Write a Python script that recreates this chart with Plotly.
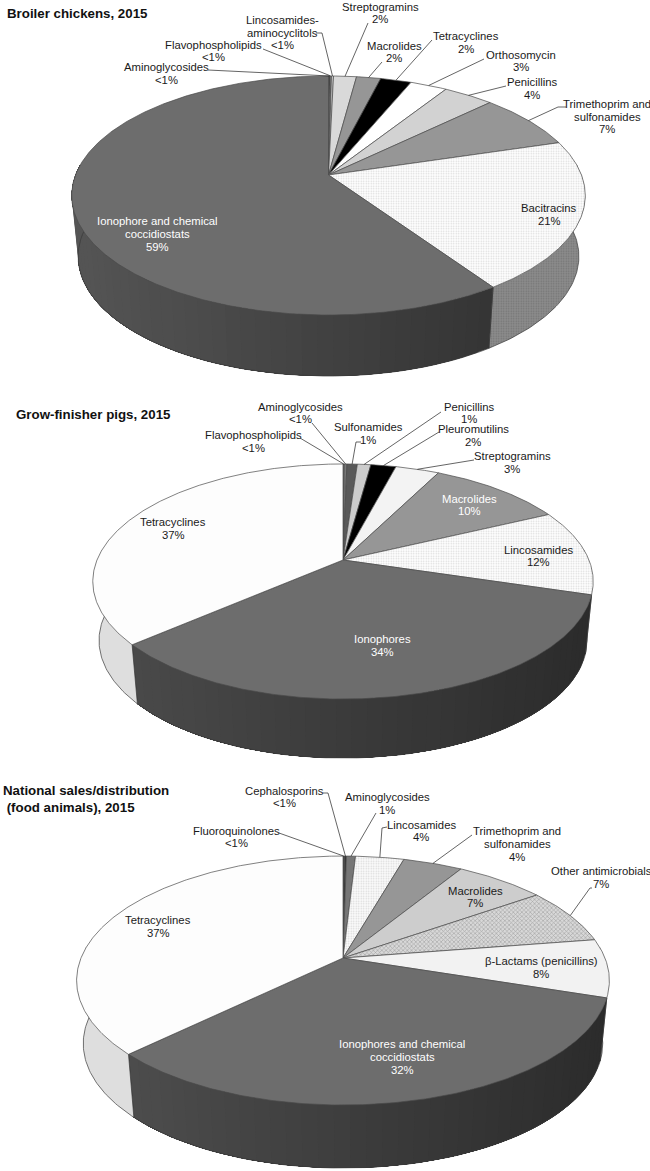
import numpy as np
import plotly.graph_objects as go

# --- data (clockwise from 12 o'clock) ---
broiler_classes = ["Aminoglycosides", "Flavophospholipids", "Lincosamides-<br>aminocyclitols", "Streptogramins",
                   "Macrolides", "Tetracyclines", "Orthosomycin", "Penicillins",
                   "Trimethoprim and<br>sulfonamides", "Bacitracins", "Ionophore and chemical<br>coccidiostats"]
broiler_values = [0.12, 0.10, 0.15, 1.7, 1.8, 2.3, 2.75, 3.75, 7.6, 20.3, 59.4]
broiler_pct = ["<1%", "<1%", "<1%", "2%", "2%", "2%", "3%", "4%", "7%", "21%", "59%"]

pig_classes = ["Flavophospholipids", "Aminoglycosides", "Sulfonamides", "Penicillins", "Pleuromutilins",
               "Streptogramins", "Macrolides", "Lincosamides", "Ionophores", "Tetracyclines"]
pig_values = [0.1, 0.2, 0.8, 1.04, 1.94, 3.37, 10.45, 11.8, 33.9, 36.4]
pig_pct = ["<1%", "<1%", "1%", "1%", "2%", "3%", "10%", "12%", "34%", "37%"]

national_classes = ["Fluoroquinolones", "Cephalosporins", "Aminoglycosides", "Lincosamides",
                    "Trimethoprim and<br>sulfonamides", "Macrolides", "Other antimicrobials",
                    "β-Lactams (penicillins)", "Ionophores and chemical<br>coccidiostats", "Tetracyclines"]
national_values = [0.1, 0.15, 0.65, 3.5, 4.3, 6.5, 7.3, 7.55, 32.6, 37.3]
national_pct = ["<1%", "<1%", "1%", "4%", "4%", "7%", "7%", "8%", "32%", "37%"]

# --- slice styles: fill, pattern shape, text colour ---
WHITE, DARK, MID, LIGHT, INK = "#ffffff", "#6d6d6d", "#969696", "#d9d9d9", "#1a1a1a"
broiler_fill = ["#444444", "#8a8a8a", "#cfcfcf", LIGHT, MID, "#000000", WHITE, "#d2d2d2", MID, WHITE, DARK]
broiler_shape = [None] * 9 + [".", None]
broiler_text = [INK] * 10 + ["#ffffff"]
pig_fill = ["#777777", "#777777", "#595959", "#cccccc", "#000000", "#f3f3f3", MID, WHITE, DARK, "#fdfdfd"]
pig_shape = [None] * 7 + [".", None, None]
pig_text = [INK] * 6 + ["#ffffff", INK, "#ffffff", INK]
national_fill = ["#444444", "#333333", "#767676", "#fbfbfb", MID, "#cdcdcd", "#d8d8d8", "#f2f2f2", DARK, "#fdfdfd"]
national_shape = [None] * 3 + ["."] + [None] * 2 + ["x"] + [None] * 3
national_text = [INK] * 8 + ["#ffffff", INK]

# walls: slice index -> (colour at left end, colour at right end, pattern)
broiler_walls = {9: ("#8c8c8c", "#8c8c8c", "."), 10: ("#555555", "#2e2e2e", None)}
pig_walls = {7: ("#dddddd", "#dddddd", None), 8: ("#4c4c4c", "#2c2c2c", None), 9: ("#dedede", "#dedede", None)}
national_walls = {7: ("#e2e2e2", "#e2e2e2", None), 8: ("#505050", "#2c2c2c", None), 9: ("#dedede", "#dedede", None)}

# --- layout of the three pies, in page pixels ---
broiler_geo = dict(cx=328.5, cy=175, rx=253, ry=116, k=0.1715, depth=61)
pig_geo = dict(cx=343, cy=560, rx=246, ry=113.6, k=0.183, depth=59)
national_geo = dict(cx=343, cy=958, rx=262, ry=120.4, k=0.181, depth=63)
WALL_SCALE = 0.975
LINE_STEP = 12.6

broiler_label_pos = [(166, 73.5), (213, 51), (282, 32.5), (380, 13), (394, 52), (466, 42.5), (521, 61), (532, 88.5),
                     (607, 116.5), (549, 214.5), (157, 234)]
broiler_leaders = [[(208, 70)], [(263, 49)], [(316, 33), (322, 33)], [(368, 23)], [(382, 62)],
                   [(432, 40), (424, 49)], [(484, 59)], [(506, 86)], [(566, 107), (558, 107)], None, None]
pig_label_pos = [(253, 441.5), (300, 413), (368, 433.5), (469, 413), (473, 435.5), (512, 462.5), (469, 505),
                 (538, 556), (382, 645.5), (173, 528.5)]
pig_leaders = [[(300, 438)], [(312, 423)], [(361, 442), (356, 442)], [(441, 412)], [(439, 432)], [(474, 460)],
               None, None, None, None]
national_label_pos = [(236, 837), (284, 797), (387, 803.5), (421, 831), (517, 844), (475, 897), (601, 877.5),
                      (541, 967.5), (402, 1057), (158, 926.5)]
national_leaders = [[(279, 833)], [(323, 793), (328, 793)], [(376, 813)], [(387, 827), (382, 828)], [(472, 835)], None,
                    [(592, 888), (590, 888)], None, None, None]

titles = [(5, 13, "Broiler chickens, 2015"), (14, 414, "Grow-finisher pigs, 2015"),
          (1, 799, "National sales/distribution<br> (food animals), 2015")]

FONT = "Liberation Sans, Arial, sans-serif"
fig = go.Figure()


def rim(geo, theta, wall=False):
    # perspective view of the circle; theta is in degrees clockwise from the top
    t = np.radians(theta)
    d = 1 + geo["k"] * np.cos(t)
    sx = WALL_SCALE if wall else 1
    x = geo["cx"] + geo["rx"] * sx * np.sin(t) / d
    y = geo["cy"] + (geo["depth"] if wall else 0) - geo["ry"] * np.cos(t) / d
    return x, y


def poly(x, y, color, line="#4a4a4a", width=0.7, shape=None):
    kw = {}
    if shape == ".":
        fg = "#b4b4b4" if color == WHITE or color == "#fbfbfb" else "#5a5a5a"
        kw["fillpattern"] = dict(shape=".", bgcolor=color, fgcolor=fg, size=2.5, solidity=0.3)
    elif shape == "x":
        kw["fillpattern"] = dict(shape="x", bgcolor=color, fgcolor="#6a6a6a", size=3, solidity=0.35)
    fig.add_trace(go.Scatter(x=x, y=y, mode="lines", fill="toself", fillcolor=color,
                             line=dict(color=line, width=width), hoverinfo="skip", showlegend=False, **kw))


def lerp(c0, c1, f):
    a = [int(c0[i:i + 2], 16) for i in (1, 3, 5)]
    b = [int(c1[i:i + 2], 16) for i in (1, 3, 5)]
    return "#%02x%02x%02x" % tuple(int(p + (q - p) * f) for p, q in zip(a, b))


def draw_pie(geo, classes, values, pct, fills, shapes, text_colors, walls, label_pos, leaders):
    v = np.array(values, dtype=float)
    edges = np.concatenate([[0], np.cumsum(v) / v.sum() * 360])

    # side wall first, the top face is painted over it
    for i, (c_left, c_right, pattern) in walls.items():
        a0, a1 = max(edges[i], 85), min(edges[i + 1], 275)
        if a1 <= a0:
            continue
        n = 1 if pattern or c_left == c_right else int((a1 - a0) / 3) + 1
        cuts = np.linspace(a0, a1, n + 1)
        for j in range(n):
            # each strip runs on to the end of the wall, so the next one just overlaps it and no seam shows
            th = np.linspace(cuts[j], a1, 80)
            xt, yt = rim(geo, th)
            xb, yb = rim(geo, th[::-1], wall=True)
            mid_x = rim(geo, (cuts[j] + cuts[j + 1]) / 2)[0]
            f = (mid_x - (geo["cx"] - geo["rx"])) / (2 * geo["rx"])
            col = lerp(c_left, c_right, f) if c_left != c_right else c_left
            poly(np.r_[xt, xb], np.r_[yt, yb], col, line="rgba(0,0,0,0)", width=0, shape=pattern)
        th = np.linspace(a0, a1, 60)
        xt, yt = rim(geo, th)
        xb, yb = rim(geo, th, wall=True)
        fig.add_trace(go.Scatter(x=np.r_[xt[0], xb, xt[-1]], y=np.r_[yt[0], yb, yt[-1]], mode="lines",
                                 line=dict(color="#3a3a3a", width=0.7), hoverinfo="skip", showlegend=False))

    # top face
    for i in range(len(v)):
        th = np.linspace(edges[i], edges[i + 1], max(int(edges[i + 1] - edges[i]) * 2, 2) + 1)
        xr, yr = rim(geo, th)
        poly(np.r_[geo["cx"], xr, geo["cx"]], np.r_[geo["cy"], yr, geo["cy"]], fills[i], shape=shapes[i])

    # leader lines and labels, one text per line to get the tight line spacing
    for i in range(len(v)):
        if leaders[i]:
            x0, y0 = rim(geo, (edges[i] + edges[i + 1]) / 2)
            xs = [p[0] for p in leaders[i]] + [x0]
            ys = [p[1] for p in leaders[i]] + [y0]
            fig.add_trace(go.Scatter(x=xs, y=ys, mode="lines", line=dict(color="#222222", width=0.7),
                                     hoverinfo="skip", showlegend=False))
        lines = classes[i].split("<br>") + [pct[i]]
        for j, line in enumerate(lines):
            fig.add_annotation(x=label_pos[i][0], y=label_pos[i][1] + (j - (len(lines) - 1) / 2) * LINE_STEP,
                               text=line.replace("<", "&lt;"), showarrow=False, xanchor="center", yanchor="middle",
                               font=dict(family=FONT, size=11.3, color=text_colors[i]))


draw_pie(broiler_geo, broiler_classes, broiler_values, broiler_pct, broiler_fill, broiler_shape, broiler_text,
         broiler_walls, broiler_label_pos, broiler_leaders)
draw_pie(pig_geo, pig_classes, pig_values, pig_pct, pig_fill, pig_shape, pig_text,
         pig_walls, pig_label_pos, pig_leaders)
draw_pie(national_geo, national_classes, national_values, national_pct, national_fill, national_shape, national_text,
         national_walls, national_label_pos, national_leaders)

for x, y, t in titles:
    fig.add_annotation(x=x, y=y, text="<b>" + t + "</b>", showarrow=False, xanchor="left", yanchor="middle",
                       align="left", font=dict(family=FONT, size=13.3, color="#111111"))

fig.update_layout(width=650, height=1171, margin=dict(l=0, r=0, t=0, b=0), plot_bgcolor="white", paper_bgcolor="white",
                  xaxis=dict(range=[0, 650], visible=False, fixedrange=True),
                  yaxis=dict(range=[1171, 0], visible=False, fixedrange=True), hovermode=False)

fig.write_html("out.html", config=dict(displayModeBar=False),
               post_script="document.body.style.margin='0';document.body.style.overflow='hidden';")
